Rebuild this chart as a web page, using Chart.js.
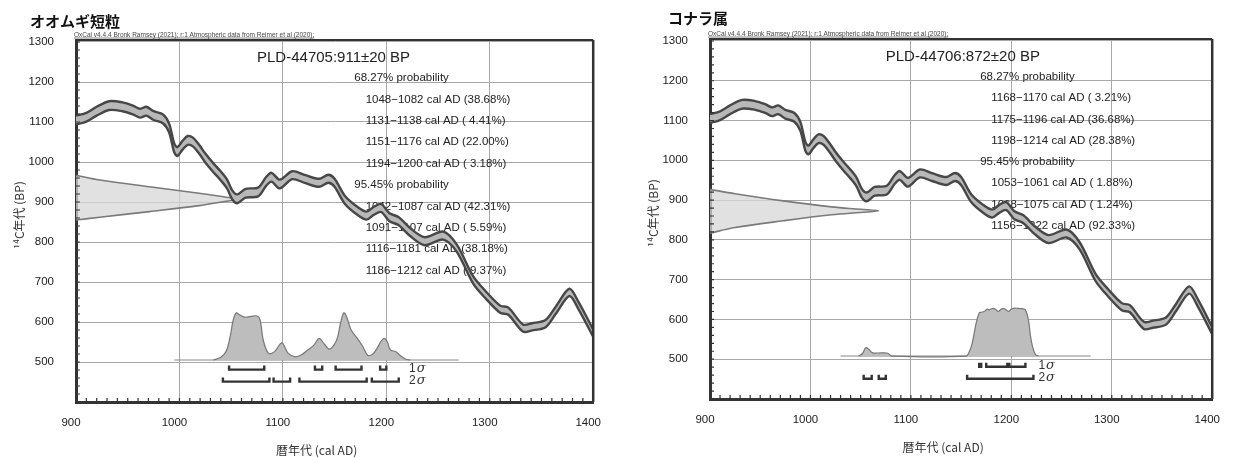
<!DOCTYPE html>
<html>
<head>
<meta charset="utf-8">
<script src="https://cdn.jsdelivr.net/npm/chart.js@4.4.1/dist/chart.umd.min.js"></script>
<style>
  body { margin: 0; background: #fff; }
  #wrap { position: relative; width: 1239px; height: 458px; overflow: hidden; }
  canvas { position: absolute; top: 0; }
</style>
</head>
<body>
<div id="wrap">
  <canvas id="chartA" width="620" height="458" style="left:0"></canvas>
  <canvas id="chartB" width="605" height="458" style="left:634px"></canvas>
</div>
<script>
// calibration curve band (upper / lower edge, BP)
const curveYears = [900, 910, 920, 932, 945, 955, 962, 968, 975, 984, 990, 995, 998, 1003, 1008, 1013, 1019, 1025, 1032, 1040,
  1046, 1051, 1056, 1064, 1076, 1084, 1089, 1097, 1109, 1121, 1135, 1144, 1150, 1160, 1172, 1181, 1188, 1195, 1203, 1212,
  1223, 1237, 1255, 1268, 1284, 1296, 1310, 1318, 1332, 1341, 1354, 1364, 1377, 1386, 1400];
const curveUpper = [1116, 1123, 1138, 1152, 1149, 1141, 1133, 1138, 1127, 1119, 1096, 1046, 1037, 1053, 1065, 1061, 1043, 1021, 999, 976,
  956, 929, 919, 933, 936, 963, 973, 956, 977, 968, 958, 968, 958, 915, 888, 876, 888, 895, 872, 862,
  835, 812, 826, 794, 714, 677, 641, 636, 594, 597, 605, 639, 683, 649, 581];
const curveLower = [1094, 1101, 1116, 1130, 1127, 1119, 1111, 1116, 1105, 1097, 1074, 1024, 1015, 1031, 1043, 1039, 1021, 999, 977, 954,
  934, 907, 897, 911, 914, 941, 951, 934, 957, 948, 938, 948, 938, 895, 868, 856, 868, 875, 852, 842,
  815, 792, 806, 776, 696, 659, 623, 618, 576, 579, 587, 621, 665, 631, 563];

const xTickValues = [900, 1000, 1100, 1200, 1300, 1400];
const yTickValues = [500, 600, 700, 800, 900, 1000, 1100, 1200, 1300];

// sample A : オオムギ短粒
const titleA = "オオムギ短粒";
const labelA = "PLD-44705:911±20 BP";
const linesA = ["68.27% probability", "1048−1082 cal AD (38.68%)", "1131−1138 cal AD ( 4.41%)", "1151−1176 cal AD (22.00%)",
  "1194−1200 cal AD ( 3.18%)", "95.45% probability", "1042−1087 cal AD (42.31%)", "1091−1107 cal AD ( 5.59%)",
  "1116−1181 cal AD (38.18%)", "1186−1212 cal AD ( 9.37%)"];
// radiocarbon measurement, drawn against the BP axis (outline: year reached at each BP)
const measAYears = [900, 923, 971, 1019, 1045, 1058, 1045, 1019, 971, 923, 900];
const measABP = [967, 955, 938, 922, 912, 907, 902, 891, 876, 862, 855];
// calibrated probability, drawn above the base line
const calAYears = [1033, 1040, 1045, 1049, 1052, 1055, 1058, 1063, 1069, 1075, 1078, 1081, 1086, 1092, 1099, 1105, 1112, 1118, 1124, 1130,
  1135, 1140, 1145, 1150, 1153, 1156, 1159, 1162, 1166, 1172, 1177, 1182, 1187, 1191, 1195, 1198, 1201, 1204, 1209, 1214, 1219, 1223];
const calABP = [505, 512, 526, 563, 605, 623, 618, 612, 614, 615, 605, 555, 522, 526, 548, 522, 513, 518, 530, 542,
  559, 545, 532, 545, 563, 600, 623, 610, 580, 559, 540, 517, 520, 534, 552, 559, 550, 530, 526, 515, 507, 505];
const baseA = [995, 1270];
const sigma1A = [[1048, 1082], [1131, 1138], [1151, 1176], [1194, 1200]];
const sigma2A = [[1042, 1087], [1091, 1107], [1116, 1181], [1186, 1212]];

// sample B : コナラ属
const titleB = "コナラ属";
const labelB = "PLD-44706:872±20 BP";
const linesB = ["68.27% probability", "1168−1170 cal AD ( 3.21%)", "1175−1196 cal AD (36.68%)", "1198−1214 cal AD (28.38%)",
  "95.45% probability", "1053−1061 cal AD ( 1.88%)", "1068−1075 cal AD ( 1.24%)", "1156−1222 cal AD (92.33%)"];
const measBYears = [900, 925, 973, 1021, 1050, 1068, 1050, 1021, 973, 925, 900];
const measBBP = [927, 916, 898, 883, 877, 873, 869, 863, 848, 831, 817];
const calBYears = [1048, 1052, 1055, 1058, 1062, 1071, 1077, 1081, 1155, 1158, 1161, 1165, 1168, 1170, 1173, 1176, 1178, 1182, 1185, 1187,
  1190, 1192, 1195, 1197, 1200, 1202, 1206, 1211, 1214, 1217, 1219, 1221, 1224, 1227];
const calBBP = [508, 515, 529, 525, 516, 516, 515, 508, 508, 518, 540, 591, 616, 618, 620, 626, 624, 628, 624, 620,
  626, 628, 624, 620, 626, 628, 628, 627, 624, 599, 560, 533, 512, 508];
const baseB = [1030, 1279];
const sigma1B = [[1168, 1170], [1175, 1196], [1198, 1214]];
const sigma2B = [[1053, 1061], [1068, 1075], [1156, 1222]];

const NOTE = "OxCal v4.4.4 Bronk Ramsey (2021); r:1 Atmospheric data from Reimer et al (2020);";
const SANS = '"Liberation Sans", Arial, sans-serif';
const JP = '"Noto Sans CJK JP", sans-serif';
const LEVEL1 = 481, LEVEL2 = 451;

function pts(xs, ys) {
  return xs.map((v, i) => ({ x: v, y: ys[i] }));
}

function brackets(ranges, level) {
  const out = [];
  ranges.forEach(r => {
    out.push({ x: r[0], y: level + 10 }, { x: r[0], y: level }, { x: r[1], y: level }, { x: r[1], y: level + 10 }, { x: r[1], y: null });
  });
  return out;
}

const decor = {
  id: "decor",
  beforeDatasetsDraw(chart, args, opts) {
    const { ctx, scales: { x, y } } = chart;
    ctx.save();
    ctx.fillStyle = "#222";
    ctx.textBaseline = "middle";
    ctx.textAlign = "left";
    ctx.font = "15px " + SANS;
    ctx.fillText(opts.label, x.getPixelForValue(1075), y.getPixelForValue(1260));
    ctx.font = "11.5px " + SANS;
    opts.lines.forEach((t, i) => {
      const head = t.indexOf("probability") > 0;
      ctx.fillText(t, x.getPixelForValue(head ? 1169 : 1180), y.getPixelForValue(1210 - 53.5 * i));
    });
    ctx.restore();
  },
  afterDraw(chart, args, opts) {
    const { ctx, chartArea: a, scales: { x, y } } = chart;
    ctx.save();
    ctx.strokeStyle = "#333";
    // top and right frame
    ctx.lineWidth = 2;
    ctx.beginPath();
    ctx.moveTo(a.left, a.top);
    ctx.lineTo(a.right, a.top);
    ctx.stroke();
    ctx.lineWidth = 2.5;
    ctx.beginPath();
    ctx.moveTo(a.right, a.top);
    ctx.lineTo(a.right, a.bottom);
    ctx.stroke();
    // minor ticks
    ctx.lineWidth = 1.2;
    ctx.beginPath();
    for (let v = 420; v <= 1300; v += 20) {
      const py = y.getPixelForValue(v);
      ctx.moveTo(a.left, py);
      ctx.lineTo(a.left + 4, py);
    }
    for (let v = 910; v < 1400; v += 10) {
      const px = x.getPixelForValue(v);
      ctx.moveTo(px, a.bottom);
      ctx.lineTo(px, a.bottom - 4);
    }
    ctx.stroke();
    // sigma labels
    ctx.fillStyle = "#333";
    ctx.textBaseline = "middle";
    [[LEVEL1, "1"], [LEVEL2, "2"]].forEach(([lv, n]) => {
      const px = x.getPixelForValue(opts.sigmaYear);
      const py = y.getPixelForValue(lv + 2);
      ctx.font = "12px " + SANS;
      ctx.fillText(n, px, py);
      const w = ctx.measureText(n).width;
      ctx.font = 'italic 13px "DejaVu Serif", serif';
      ctx.fillText("σ", px + w + 1, py);
    });
    // OxCal note
    ctx.font = "6.5px " + SANS;
    ctx.textBaseline = "alphabetic";
    ctx.fillStyle = "#444";
    ctx.fillText(NOTE, a.left - 2, a.top - 3);
    const nw = ctx.measureText(NOTE).width;
    ctx.lineWidth = 0.6;
    ctx.beginPath();
    ctx.moveTo(a.left - 2, a.top - 2);
    ctx.lineTo(a.left - 2 + nw, a.top - 2);
    ctx.stroke();
    // panel title
    ctx.font = "bold 15px " + JP;
    ctx.fillStyle = "#111";
    ctx.textBaseline = "middle";
    ctx.fillText(opts.title, opts.titleX, opts.titleY);
    ctx.restore();
  }
};

function makeChart(id, cfg) {
  return new Chart(document.getElementById(id), {
    type: "line",
    data: {
      datasets: [
        { data: pts(curveYears, curveUpper), borderColor: "#474747", borderWidth: 2.4, fill: false, tension: 0.3, order: 1 },
        { data: pts(curveYears, curveLower), borderColor: "#474747", borderWidth: 2.4, fill: "-1", backgroundColor: "#b8b8b8", tension: 0.3, order: 1 },
        { data: brackets(cfg.s1, LEVEL1).concat(brackets(cfg.s2, LEVEL2)), borderColor: "#333", borderWidth: 2.4, spanGaps: false, fill: false, tension: 0, order: 2 },
        { data: pts(cfg.measYears, cfg.measBP), borderColor: "#7a7a7a", borderWidth: 1.6, fill: "shape", backgroundColor: "rgba(215,215,215,0.75)", tension: 0.35, order: 3 },
        { data: pts(cfg.calYears, cfg.calBP), borderColor: "#777", borderWidth: 1.2, fill: { value: cfg.baseBP }, backgroundColor: "#bdbdbd", tension: 0.35, order: 4 },
        { data: [{ x: cfg.base[0], y: cfg.baseBP }, { x: cfg.base[1], y: cfg.baseBP }], borderColor: "#888", borderWidth: 1, fill: false, order: 5 }
      ]
    },
    options: {
      responsive: false,
      animation: false,
      elements: { point: { radius: 0 } },
      layout: { padding: cfg.padding },
      plugins: {
        legend: { display: false },
        tooltip: { enabled: false },
        decor: { label: cfg.label, lines: cfg.lines, title: cfg.title, titleX: cfg.titleX, titleY: cfg.titleY, sigmaYear: cfg.sigmaYear }
      },
      scales: {
        x: {
          type: "linear",
          min: 900,
          max: 1400,
          afterBuildTicks: s => { s.ticks = xTickValues.map(v => ({ value: v })); },
          afterFit: s => { s.height = 56; },
          grid: { color: "#a8a8a8", lineWidth: 1, drawTicks: false },
          border: { display: true, color: "#333", width: 3 },
          ticks: { padding: 14, labelOffset: -5, color: "#222", font: { family: SANS, size: 11.5 }, maxRotation: 0, callback: v => String(v) },
          title: { display: true, text: "暦年代 (cal AD)\u3000\u3000\u3000", color: "#333", font: { family: JP, size: 12 }, padding: { top: 0, bottom: 0 } }
        },
        y: {
          type: "linear",
          min: 400,
          max: 1305,
          afterBuildTicks: s => { s.ticks = yTickValues.map(v => ({ value: v })); },
          afterFit: s => { s.width = 76; },
          grid: { color: "#a8a8a8", lineWidth: 1, drawTicks: false },
          border: { display: true, color: "#333", width: 3 },
          ticks: { padding: 22, color: "#222", font: { family: SANS, size: 11.5 }, callback: v => String(v) },
          title: { display: true, text: "\u3000¹⁴C年代 (BP)", color: "#333", font: { family: JP, size: 12 }, padding: { top: 12, bottom: 0 } }
        }
      }
    },
    plugins: [decor]
  });
}

makeChart("chartA", {
  s1: sigma1A, s2: sigma2A, measYears: measAYears, measBP: measABP, calYears: calAYears, calBP: calABP,
  base: baseA, baseBP: 505, label: labelA, lines: linesA, title: titleA, titleX: 30, titleY: 21, sigmaYear: 1222,
  padding: { top: 40, right: 22, bottom: 0, left: 0 }
});
makeChart("chartB", {
  s1: sigma1B, s2: sigma2B, measYears: measBYears, measBP: measBBP, calYears: calBYears, calBP: calBBP,
  base: baseB, baseBP: 508, label: labelB, lines: linesB, title: titleB, titleX: 34, titleY: 18, sigmaYear: 1227,
  padding: { top: 39, right: 6, bottom: 3, left: 0 }
});
</script>
</body>
</html>
